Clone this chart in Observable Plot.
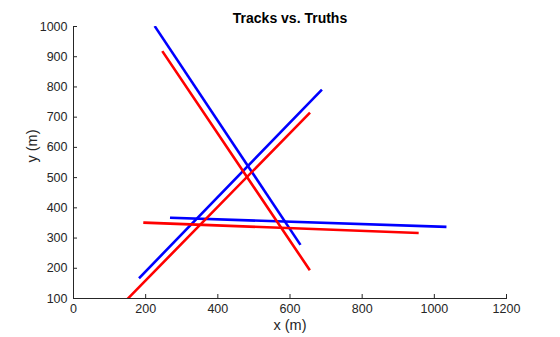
<!DOCTYPE html>
<html>
<head>
<meta charset="utf-8">
<script src="https://cdn.jsdelivr.net/npm/d3@7"></script>
<script src="https://cdn.jsdelivr.net/npm/@observablehq/plot@0.6"></script>
<style>
  html, body { margin: 0; padding: 0; background: #fff; }
  #chart svg { display: block; }
</style>
</head>
<body>
<div id="chart"></div>
<script>
const titleText = "Tracks vs. Truths";
const xLabel = "x (m)";
const yLabel = "y (m)";
const xTicks = [0, 200, 400, 600, 800, 1000, 1200];
const yTicks = [100, 200, 300, 400, 500, 600, 700, 800, 900, 1000];

const seriesNames = ["Track A", "Track B", "Track C", "Truth A", "Truth B", "Truth C"];
const seriesKind  = ["track", "track", "track", "truth", "truth", "truth"];
const startX = [227, 184, 271, 248, 150, 197];
const startY = [998, 170, 367, 915,  99, 351];
const endX   = [627, 686, 1030, 653, 653, 953];
const endY   = [281, 788, 337, 197, 712, 317];

const rows = [];
seriesNames.forEach((name, i) => {
  rows.push({name, kind: seriesKind[i], x: startX[i], y: startY[i]});
  rows.push({name, kind: seriesKind[i], x: endX[i], y: endY[i]});
});

const axisColor = "#262626";

const chart = Plot.plot({
  width: 560,
  height: 337,
  marginLeft: 73,
  marginRight: 54,
  marginTop: 26,
  marginBottom: 39,
  style: {fontFamily: "'Liberation Sans', Arial, sans-serif", fontSize: "12.5px", color: axisColor, background: "#fff"},
  x: {domain: [0, 1200]},
  y: {domain: [100, 1000]},
  color: {domain: ["track", "truth"], range: ["#0000ff", "#ff0000"]},
  marks: [
    Plot.line(rows, {x: "x", y: "y", z: "name", stroke: "kind", strokeWidth: 2.6, strokeLinecap: "square", clip: true}),
    Plot.axisX({ticks: xTicks, tickFormat: "d", tickSize: -4, tickPadding: 10, label: null, stroke: axisColor, fill: axisColor}),
    Plot.axisY({ticks: yTicks, tickFormat: "d", tickSize: -4, tickPadding: 10, label: null, stroke: axisColor, fill: axisColor}),
    Plot.frame({anchor: "left", stroke: axisColor}),
    Plot.frame({anchor: "bottom", stroke: axisColor}),
    Plot.text([xLabel], {frameAnchor: "bottom", dy: 31, fontSize: 14.5, fill: axisColor}),
    Plot.text([yLabel], {frameAnchor: "left", dx: -41, rotate: -90, fontSize: 14.5, fill: axisColor}),
    Plot.text([titleText], {frameAnchor: "top", dy: -13, fontSize: 14, fontWeight: "bold", fill: "#000"})
  ]
});
document.getElementById("chart").appendChild(chart);
</script>
</body>
</html>
